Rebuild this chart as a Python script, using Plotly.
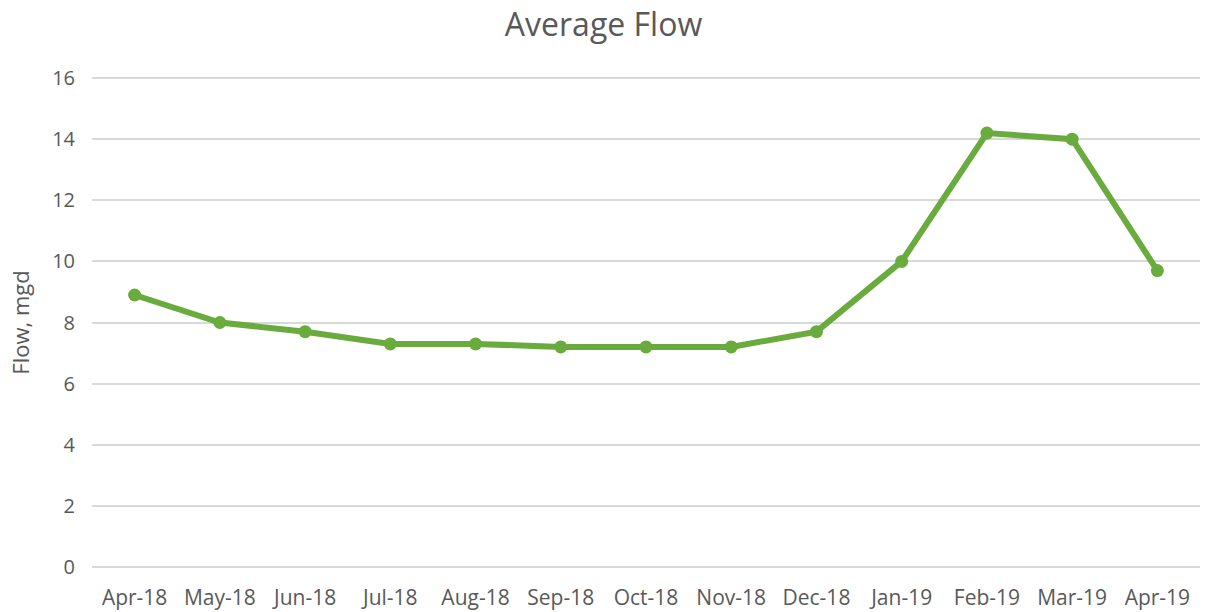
import plotly.graph_objects as go

months = ["Apr-18", "May-18", "Jun-18", "Jul-18", "Aug-18", "Sep-18", "Oct-18",
          "Nov-18", "Dec-18", "Jan-19", "Feb-19", "Mar-19", "Apr-19"]
flow_mgd = [8.9, 8.0, 7.7, 7.3, 7.3, 7.2, 7.2, 7.2, 7.7, 10.0, 14.2, 14.0, 9.7]
y_ticks = [0, 2, 4, 6, 8, 10, 12, 14, 16]

green = "#6aab3e"
text_color = "#595959"
font_family = "Open Sans, Lato, sans-serif"

W, H = 1207, 612

fig = go.Figure()
fig.add_trace(go.Scatter(
    x=months,
    y=flow_mgd,
    mode="lines+markers",
    line=dict(color=green, width=6),
    marker=dict(color=green, size=13),
    showlegend=False,
))

fig.update_layout(
    width=W,
    height=H,
    paper_bgcolor="white",
    plot_bgcolor="white",
    margin=dict(l=92, r=7, t=75, b=42),
    title=dict(
        text="Average Flow",
        x=0.5, xanchor="center",
        y=1 - 25 / H, yanchor="middle",
        font=dict(family=font_family, size=32, color=text_color),
    ),
    font=dict(family=font_family, color=text_color),
)

fig.update_xaxes(
    type="category",
    range=[-0.5, len(months) - 0.5],
    automargin=False,
    showgrid=False,
    showline=False,
    zeroline=False,
    ticks="",
    ticklabelstandoff=13,
    tickfont=dict(size=21, color=text_color),
)

fig.update_yaxes(
    range=[-0.1, 16.1],
    automargin=False,
    tickvals=y_ticks,
    showgrid=True,
    gridcolor="#d9d9d9",
    gridwidth=1.5,
    zeroline=False,
    showline=False,
    ticks="",
    ticklabelstandoff=16,
    tickfont=dict(size=20, color=text_color),
    title=dict(text="Flow, mgd", font=dict(size=22, color=text_color), standoff=16),
)

# drop the default 8px page margin so the figure fills the window exactly
fig.write_html(
    "out.html",
    config={"displayModeBar": False},
    post_script="document.body.style.margin = '0';",
)
